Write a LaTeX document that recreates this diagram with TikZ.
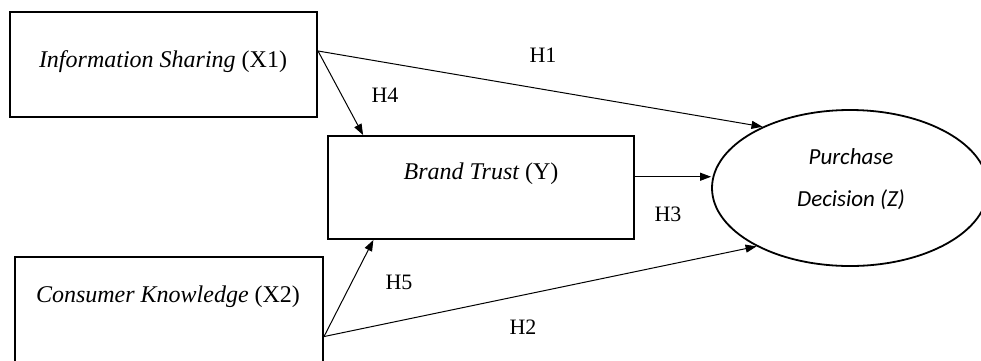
\documentclass[tikz,border=0pt]{standalone}
\usepackage{fontspec}
\setmainfont{Liberation Serif}
\newfontfamily\calibrifont{Carlito}
\usetikzlibrary{arrows.meta,shapes.geometric}
\begin{document}
\begin{tikzpicture}[x=1pt,y=-1pt,
  box/.style={draw,line width=2pt,inner sep=0pt},
  vartext/.style={font=\fontsize{24}{28}\selectfont\itshape,inner sep=0pt},
  ztext/.style={font=\fontsize{23}{27}\selectfont\calibrifont\itshape,inner sep=0pt},
  hlab/.style={font=\fontsize{22}{26}\selectfont,inner sep=0pt},
  arr/.style={line width=1pt,-{Triangle[length=11pt,width=8pt]}}]
\useasboundingbox (0,0) rectangle (981,360);
% boxes
\node[box,minimum width=307pt,minimum height=105pt] (x1) at (163.5,64.5) {};
\node[box,minimum width=306pt,minimum height=103pt] (y) at (481,187.5) {};
\node[box,minimum width=308pt,minimum height=110pt] (x2) at (169,312) {};
\node[draw,ellipse,line width=1.8pt,minimum width=276pt,minimum height=156pt,inner sep=0pt] (pd) at (850,188) {};
% texts
\node[vartext] (x1t) at (163,62) {Information Sharing \upshape(X1)};
\node[vartext] (yt) at (481,174) {Brand Trust \upshape(Y)};
\node[vartext] (x2t) at (168,297) {Consumer Knowledge \upshape(X2)};
\node[ztext] (pdt1) at (851,157) {Purchase};
\node[ztext] (pdt2) at (851,200) {Decision (Z)};
% connectors
\draw[arr] (x1.5) -- (pd.145);
\draw[arr] (x1.5) -- (y.156);
\draw[arr] (y.4) -- (y.4 -| pd.west);
\draw[arr] (x2.-9) -- (y.206);
\draw[arr] (x2.-9) -- (pd.212);
% labels
\node[hlab] (h1) at (543,55) {H1};
\node[hlab] (h4) at (385,95) {H4};
\node[hlab] (h3) at (668,214) {H3};
\node[hlab] (h5) at (399,282) {H5};
\node[hlab] (h2) at (523,327) {H2};
\end{tikzpicture}
\end{document}
